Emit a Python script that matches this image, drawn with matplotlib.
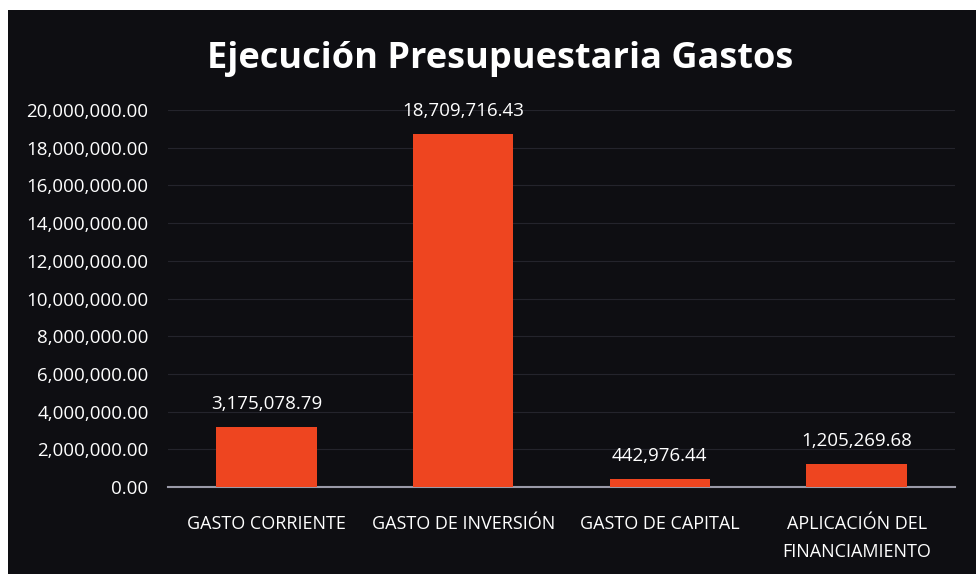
import matplotlib.pyplot as plt
from matplotlib.patches import Rectangle
from matplotlib.ticker import FuncFormatter

# Budget execution by expense type
categorias = ['GASTO CORRIENTE', 'GASTO DE INVERSIÓN', 'GASTO DE CAPITAL',
              'APLICACIÓN DEL\nFINANCIAMIENTO']
montos = [3175078.79, 18709716.43, 442976.44, 1205269.68]

fuente = ['Open Sans', 'DejaVu Sans']

fig = plt.figure(figsize=(9.76, 5.74), dpi=100, facecolor='white')
# dark scanned panel with a thin white margin top/left
fig.patches.append(Rectangle((8 / 976, 0), 1, 1 - 10 / 574, transform=fig.transFigure,
                             facecolor='#0e0e12', edgecolor='none', zorder=-5))

ax = fig.add_axes([168 / 976, 87 / 574, 787 / 976, 377 / 574])
ax.set_facecolor('none')
ax.set_zorder(2)

x = range(len(categorias))
ax.bar(x, montos, width=0.51, color='#ee4520', zorder=3)
ax.set_xlim(-0.5, 3.5)
ax.set_ylim(0, 20000000)
ax.set_yticks(range(0, 20000001, 2000000))
ax.yaxis.set_major_formatter(FuncFormatter(lambda v, p: f'{v:,.2f}'))
ax.set_xticks(list(x))
ax.set_xticklabels(categorias, family=fuente, fontsize=13, color='white', linespacing=1.75)
for lab in ax.get_yticklabels():
    lab.set_family(fuente)
    lab.set_fontsize(13.5)
    lab.set_color('white')
ax.tick_params(length=0, pad=14)
ax.tick_params(axis='x', pad=20)

ax.grid(axis='y', color='#24242c', linewidth=0.8, zorder=0)
for s in ['top', 'right', 'left']:
    ax.spines[s].set_visible(False)
ax.spines['bottom'].set_color('#9a9aa8')
ax.spines['bottom'].set_linewidth(1.5)

for xi, v in zip(x, montos):
    ax.annotate(f'{v:,.2f}', (xi, v), xytext=(0, 10), textcoords='offset points',
                ha='center', va='bottom', color='white', fontsize=13.5, family=fuente)

fig.text(0.512, 0.897, 'Ejecución Presupuestaria Gastos', ha='center', va='center',
         color='white', fontsize=26, fontweight='bold', family=['Open Sans', 'DejaVu Sans'])

fig.savefig('out.png', dpi=100, facecolor=fig.get_facecolor())
